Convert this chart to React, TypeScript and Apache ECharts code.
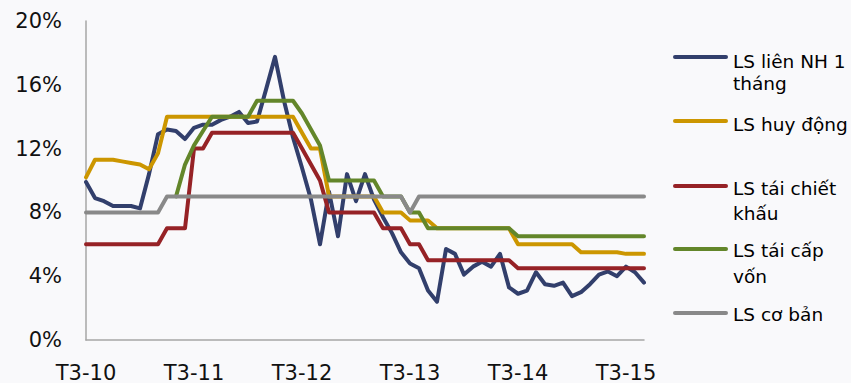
import React, { useEffect, useRef } from "react";
import * as echarts from "echarts";

const categories = [
  "T3-10","T4-10","T5-10","T6-10","T7-10","T8-10","T9-10","T10-10","T11-10","T12-10",
  "T1-11","T2-11","T3-11","T4-11","T5-11","T6-11","T7-11","T8-11","T9-11","T10-11","T11-11","T12-11",
  "T1-12","T2-12","T3-12","T4-12","T5-12","T6-12","T7-12","T8-12","T9-12","T10-12","T11-12","T12-12",
  "T1-13","T2-13","T3-13","T4-13","T5-13","T6-13","T7-13","T8-13","T9-13","T10-13","T11-13","T12-13",
  "T1-14","T2-14","T3-14","T4-14","T5-14","T6-14","T7-14","T8-14","T9-14","T10-14","T11-14","T12-14",
  "T1-15","T2-15","T3-15","T4-15","T5-15",
];

const interbank1M = [
  9.9, 8.9, 8.7, 8.4, 8.4, 8.4, 8.25, 10.4, 12.9, 13.2,
  13.1, 12.6, 13.3, 13.5, 13.5, 13.8, 14.0, 14.3, 13.6, 13.7,
  15.7, 17.75, 15.0, 12.7, 10.8, 8.8, 6.0, 9.3, 6.5, 10.4,
  8.7, 10.4, 8.8, 7.7, 6.7, 5.5, 4.8, 4.5, 3.1, 2.4,
  5.7, 5.4, 4.1, 4.6, 4.9, 4.6, 5.4, 3.3, 2.9, 3.1,
  4.25, 3.5, 3.4, 3.6, 2.75, 3.0, 3.5, 4.1, 4.3, 4.0,
  4.6, 4.25, 3.6,
];

const depositRate = [
  10.2, 11.3, 11.3, 11.3, 11.2, 11.1, 11.0, 10.7, 11.7, 14,
  14, 14, 14, 14, 14, 14, 14, 14, 14, 14,
  14, 14, 14, 14, 13, 12, 12, 9, 9, 9,
  9, 9, 9, 8, 8, 8, 7.5, 7.5, 7.5, 7,
  7, 7, 7, 7, 7, 7, 7, 7, 6, 6,
  6, 6, 6, 6, 6, 5.5, 5.5, 5.5, 5.5, 5.5,
  5.4, 5.4, 5.4,
];

const discountRate = [
  6, 6, 6, 6, 6, 6, 6, 6, 6, 7,
  7, 7, 12, 12, 13, 13, 13, 13, 13, 13,
  13, 13, 13, 13, 12, 11, 10, 8, 8, 8,
  8, 8, 8, 7, 7, 7, 6, 6, 5, 5,
  5, 5, 5, 5, 5, 5, 5, 5, 4.5, 4.5,
  4.5, 4.5, 4.5, 4.5, 4.5, 4.5, 4.5, 4.5, 4.5, 4.5,
  4.5, 4.5, 4.5,
];

const refinancingRate = [
  null, null, null, null, null, null, null, null, null, null,
  9, 11, 12.2, 13.1, 14, 14, 14, 14, 14, 15,
  15, 15, 15, 15, 14.2, 13.2, 12.2, 10, 10, 10,
  10, 10, 10, 9, 9, 9, 8, 8, 7, 7,
  7, 7, 7, 7, 7, 7, 7, 7, 6.5, 6.5,
  6.5, 6.5, 6.5, 6.5, 6.5, 6.5, 6.5, 6.5, 6.5, 6.5,
  6.5, 6.5, 6.5,
];

const baseRate = [
  8, 8, 8, 8, 8, 8, 8, 8, 8, 9,
  9, 9, 9, 9, 9, 9, 9, 9, 9, 9,
  9, 9, 9, 9, 9, 9, 9, 9, 9, 9,
  9, 9, 9, 9, 9, 9, 8, 9, 9, 9,
  9, 9, 9, 9, 9, 9, 9, 9, 9, 9,
  9, 9, 9, 9, 9, 9, 9, 9, 9, 9,
  9, 9, 9,
];

const seriesNames = ["LS liên NH 1 tháng", "LS huy động", "LS tái chiết khấu", "LS tái cấp vốn", "LS cơ bản"];
const seriesColors = ["#323F6C", "#CC9600", "#962226", "#63862A", "#898989"];
const seriesData = [interbank1M, depositRate, discountRate, refinancingRate, baseRate];

// legend layout: line y, text lines with their center y
const legendLayout = [
  { lineY: 57, lines: [["LS liên NH 1", 61.5], ["tháng", 83.5]] },
  { lineY: 121, lines: [["LS huy động", 124.5]] },
  { lineY: 186, lines: [["LS tái chiết", 188], ["khấu", 213]] },
  { lineY: 249, lines: [["LS tái cấp", 250.5], ["vốn", 276.5]] },
  { lineY: 313, lines: [["LS cơ bản", 314.5]] },
];

const FONT = '"DejaVu Sans", Verdana, sans-serif';

export default function App() {
  const ref = useRef<HTMLDivElement>(null);
  useEffect(() => {
    if (!ref.current) return;
    const chart = echarts.init(ref.current, undefined, { renderer: "svg" });
    const graphics: any[] = [];
    legendLayout.forEach((item, k) => {
      graphics.push({
        type: "line",
        shape: { x1: 675, y1: item.lineY, x2: 726, y2: item.lineY },
        style: { stroke: seriesColors[k], lineWidth: 4, lineCap: "round" },
        silent: true,
      });
      item.lines.forEach(([t, y]) => {
        graphics.push({
          type: "text",
          x: 733,
          y: y as number,
          style: {
            text: t as string,
            fill: "#000",
            fontSize: 18.5,
            fontFamily: FONT,
            verticalAlign: "middle",
            align: "left",
          },
          silent: true,
        });
      });
    });
    chart.setOption({
      animation: false,
      backgroundColor: "#f9f9fb",
      grid: { left: 86, right: 207, top: 21, bottom: 42, containLabel: false },
      xAxis: {
        type: "category",
        boundaryGap: false,
        data: categories,
        axisLine: { show: true, lineStyle: { color: "#a6a6a6", width: 1.5 } },
        axisTick: { show: false },
        splitLine: { show: false },
        axisLabel: {
          interval: 11,
          margin: 22,
          fontSize: 21,
          color: "#111",
          fontFamily: FONT,
        },
      },
      yAxis: {
        type: "value",
        min: 0,
        max: 20,
        interval: 4,
        axisLine: { show: true, lineStyle: { color: "#a6a6a6", width: 1.5 } },
        axisTick: { show: false },
        splitLine: { show: false },
        axisLabel: {
          formatter: "{value}%",
          margin: 24,
          fontSize: 21,
          color: "#111",
          fontFamily: FONT,
        },
      },
      series: seriesData.map((d, k) => ({
        name: seriesNames[k],
        type: "line",
        data: d,
        showSymbol: false,
        connectNulls: false,
        lineStyle: { color: seriesColors[k], width: 4, cap: "round", join: "round" },
        itemStyle: { color: seriesColors[k] },
        z: 2 + k,
      })),
      graphic: graphics,
    });
    return () => chart.dispose();
  }, []);
  return (
    <div
      ref={ref}
      style={{ position: "fixed", left: 0, top: 0, width: 851, height: 383 }}
    />
  );
}
